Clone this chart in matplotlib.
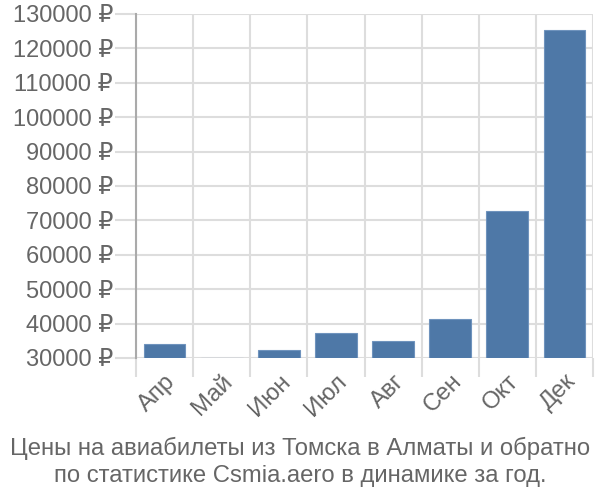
import matplotlib
matplotlib.use("Agg")
import matplotlib.pyplot as plt
import numpy as np

plt.rcParams['font.family'] = ['Liberation Sans', 'DejaVu Sans']

months = ["Апр", "Май", "Июн", "Июл", "Авг", "Сен", "Окт", "Дек"]
prices = [34000, 30000, 32400, 37400, 35000, 41400, 72800, 125400]
yticks = list(range(30000, 130001, 10000))
title = "Цены на авиабилеты из Томска в Алматы и обратно\nпо статистике Csmia.aero в динамике за год."

fig = plt.figure(figsize=(6, 5), dpi=100)
ax = fig.add_axes([136/600, 1-358/500, (593-136)/600, (358-14)/500])

base = yticks[0]
x = np.arange(len(months))
ax.bar(x, [p - base for p in prices], bottom=base, width=0.73,
       color='#4e78a7', edgecolor='#6f93bd', linewidth=0.8, zorder=3)

ax.set_xlim(-0.5, len(months) - 0.5)
ax.set_ylim(yticks[0], yticks[-1])
ax.set_yticks(yticks)
ax.set_yticklabels([f"{v} ₽" for v in yticks], color='#666666', fontsize=17)

ax.set_xticks(x)
ax.set_xticklabels(months, rotation=45, ha='right', rotation_mode='anchor',
                   color='#666666', fontsize=17.3)
ax.tick_params(axis='x', which='major', length=0, pad=9)
ax.set_xticks(np.arange(-0.5, len(months)), minor=True)
ax.tick_params(axis='x', which='minor', length=14, color='#dddddd', width=1.5)
ax.tick_params(axis='y', length=15, color='#dddddd', width=1.5, pad=1.5)

ax.grid(True, axis='y', which='major', color='#dddddd', linewidth=1.5, zorder=0)
ax.grid(True, axis='x', which='minor', color='#dddddd', linewidth=1.5, zorder=0)
ax.grid(False, axis='x', which='major')

for s in ['top', 'right', 'bottom']:
    ax.spines[s].set_visible(False)
ax.spines['left'].set_color('#aaaaaa')
ax.spines['left'].set_linewidth(1.5)
ax.spines['left'].set_zorder(4)

fig.text(0.5, 1 - 462/500, title, ha='center', va='center', color='#666666',
         fontsize=17.2, linespacing=1.32)

fig.savefig("out.png", dpi=100)
